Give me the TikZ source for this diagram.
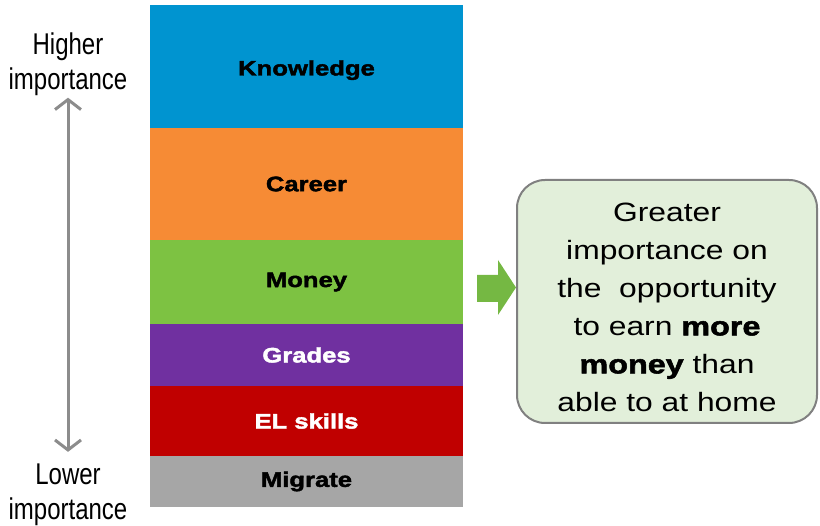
\documentclass[tikz,border=0pt]{standalone}
\usepackage{fontspec}
\setmainfont{Liberation Sans}
\newfontfamily\narrowfont[FakeStretch=0.8]{Liberation Sans}
\newfontfamily\widefont[FakeStretch=1.2]{Liberation Sans}
\newfontfamily\blockfont[FakeStretch=1.22,FakeBold=2]{Liberation Sans}
\usepackage{tikz}
\usetikzlibrary{positioning, arrows.meta}
\definecolor{knowblue}{RGB}{0,148,208}
\definecolor{careerorange}{RGB}{246,139,53}
\definecolor{moneygreen}{RGB}{125,194,66}
\definecolor{gradepurple}{RGB}{112,48,160}
\definecolor{skillred}{RGB}{192,0,0}
\definecolor{migrategray}{RGB}{166,166,166}
\definecolor{notegreen}{RGB}{226,239,218}
\definecolor{arrowgreen}{RGB}{117,184,67}

\begin{document}
\begin{tikzpicture}[x=1pt, y=-1pt,
	layer/.style={rectangle, minimum width=313pt, inner sep=0pt, outer sep=0pt,
		font=\blockfont\bfseries\fontsize{21}{25}\selectfont},
	sidetext/.style={align=center, inner sep=0pt, font=\narrowfont\fontsize{30}{35}\selectfont},
	notebox/.style={draw=gray, line width=2pt, fill=notegreen, rounded corners=28pt,
		minimum width=300pt, minimum height=243pt, align=center, inner sep=0pt,
		font=\widefont\fontsize{26.5}{38}\selectfont}]
	\useasboundingbox (0,0) rectangle (820,526);
	% stacked column
	\node[layer, fill=knowblue, minimum height=123pt, anchor=north] (know) at (306.5,5) {\raisebox{-9pt}[0pt][0pt]{Knowledge}};
	\node[layer, fill=careerorange, minimum height=112pt, below=0pt of know] (career) {Career};
	\node[layer, fill=moneygreen, minimum height=84pt, below=0pt of career] (money) {Money};
	\node[layer, fill=gradepurple, text=white, minimum height=62pt, below=0pt of money] (grades) {Grades};
	\node[layer, fill=skillred, text=white, minimum height=70pt, below=0pt of grades] (elskills) {EL skills};
	\node[layer, fill=migrategray, minimum height=51pt, below=0pt of elskills] (migrate) {Migrate};
	% importance scale
	\node[sidetext] (higher) at (68,64) {Higher\\importance};
	\node[sidetext] (lower) at (68,495) {Lower\\importance};
	\draw[{Straight Barb[length=10pt,width=26pt]}-{Straight Barb[length=10pt,width=26pt]}, line width=3pt, color=gray!90]
		([yshift=-2pt]higher.south) -- ([yshift=12pt]lower.north);
	% note
	\node[notebox] (note) at (667,301.5) {\rule{0pt}{30pt}Greater\\importance on\\the\ \ opportunity\\to earn {\blockfont\bfseries more}\\{\blockfont\bfseries money} than\\able to at home};
	\fill[arrowgreen] (477,275) -- (498,275) -- (498,260) -- (note.west |- 0,287.5)
		-- (498,315) -- (498,302) -- (477,302) -- cycle;
\end{tikzpicture}
\end{document}
